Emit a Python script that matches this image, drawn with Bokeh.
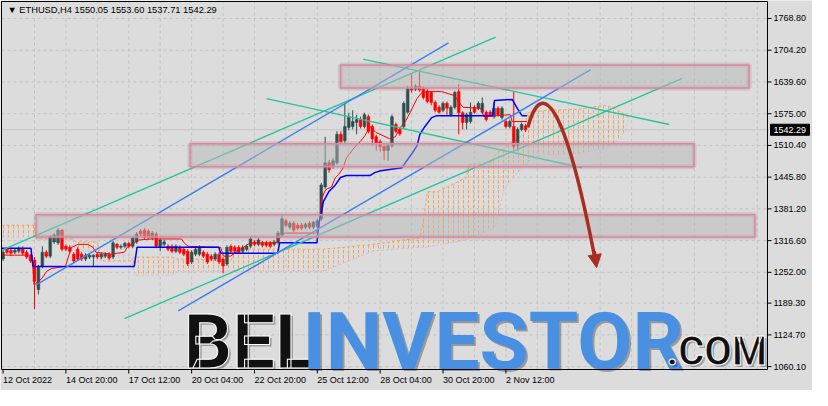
import numpy as np
from bokeh.plotting import figure
from bokeh.models import Range1d, Arrow, NormalHead, ColumnDataSource
from bokeh.embed import file_html
from bokeh.resources import INLINE
from bokeh.core.properties import value

# ---------------- data ----------------
header_text = "\u25BC ETHUSD,H4  1550.05 1553.60 1537.71 1542.29"
last_price = 1542.29

opens = [1279,1299,1297,1293,1295,1301,1293,1285,1277,1217,
         1264,1293,1285,1314,1312,1338,1305,1303,1289,1299,
         1289,1279,1283,1283,1289,1283,1285,1289,1283,1309,
         1303,1305,1311,1305,1314,1336,1338,1336,1322,1330,
         1303,1309,1305,1305,1295,1303,1299,1295,1273,1289,
         1289,1293,1289,1285,1279,1289,1279,1269,1305,1303,
         1303,1295,1299,1305,1314,1309,1312,1312,1312,1309,
         1312,1328,1357,1344,1352,1348,1348,1344,1352,1344,
         1346,1361,1426,1475,1469,1475,1533,1520,1547,1549,
         1557,1563,1549,1569,1549,1528,1518,1508,1500,1510,
         1553,1543,1549,1578,1627,1625,1631,1627,1621,1618,
         1598,1588,1582,1596,1573,1588,1620,1577,1557,1559,
         1588,1586,1578,1578,1578,1569,1586,1567,1559,1549,
         1549,1510,1543,1550.05]
highs = [1299,1303,1303,1301,1305,1305,1297,1289,1283,1267,
         1305,1297,1328,1332,1342,1340,1309,1307,1293,1303,
         1293,1291,1291,1289,1293,1293,1293,1293,1316,1312,
         1309,1314,1314,1326,1334,1340,1342,1340,1336,1334,
         1322,1318,1309,1309,1309,1307,1303,1299,1297,1303,
         1307,1297,1293,1289,1293,1293,1283,1307,1309,1307,
         1307,1307,1309,1324,1318,1322,1316,1316,1316,1318,
         1336,1371,1361,1356,1356,1352,1352,1353,1356,1357,
         1361,1434,1528,1481,1485,1539,1539,1596,1577,1582,
         1573,1569,1577,1573,1553,1532,1522,1512,1514,1573,
         1557,1547,1600,1631,1655,1635,1664,1631,1627,1621,
         1602,1592,1600,1600,1592,1621,1635,1580,1577,1598,
         1592,1600,1608,1582,1582,1598,1590,1590,1563,1563,
         1621,1547,1557,1553.60]
lows = [1275,1289,1285,1289,1291,1287,1279,1271,1177,1207,
        1260,1281,1281,1310,1308,1295,1295,1291,1271,1275,
        1275,1275,1279,1264,1279,1279,1281,1277,1279,1299,
        1299,1301,1301,1301,1310,1326,1320,1318,1318,1301,
        1295,1305,1295,1291,1291,1289,1285,1265,1269,1285,
        1285,1281,1269,1275,1275,1269,1250,1265,1291,1291,
        1289,1291,1295,1301,1305,1305,1303,1303,1301,1305,
        1309,1324,1344,1340,1334,1338,1338,1340,1340,1340,
        1342,1357,1422,1455,1463,1471,1514,1516,1541,1543,
        1533,1545,1545,1535,1510,1500,1498,1481,1479,1506,
        1535,1530,1545,1575,1618,1621,1620,1604,1596,1592,
        1578,1575,1578,1573,1569,1584,1533,1543,1543,1555,
        1575,1582,1575,1559,1569,1565,1569,1563,1545,1545,
        1502,1500,1539,1537.71]
closes = [1293,1293,1291,1297,1301,1291,1283,1275,1234,1264,
          1293,1285,1324,1328,1338,1299,1299,1295,1275,1279,
          1279,1287,1287,1287,1283,1289,1289,1281,1312,1303,
          1305,1311,1305,1322,1330,1330,1324,1324,1332,1305,
          1318,1314,1299,1295,1305,1293,1289,1269,1293,1299,
          1303,1285,1273,1279,1289,1273,1265,1303,1295,1295,
          1293,1303,1305,1320,1309,1318,1307,1307,1305,1314,
          1332,1361,1348,1352,1338,1342,1342,1350,1344,1354,
          1357,1430,1475,1461,1479,1533,1518,1549,1569,1559,
          1563,1549,1573,1539,1524,1514,1508,1500,1510,1569,
          1539,1534,1596,1627,1623,1631,1623,1608,1600,1598,
          1582,1578,1596,1586,1588,1618,1577,1557,1573,1578,
          1578,1596,1596,1563,1573,1586,1573,1586,1549,1559,
          1508,1543,1553,1542.29]

date_tick_bars = [0, 16, 32, 48, 64, 80, 96, 112, 128]
date_labels = ["12 Oct 2022", "14 Oct 20:00", "17 Oct 12:00", "20 Oct 04:00",
               "22 Oct 20:00", "25 Oct 12:00", "28 Oct 04:00", "30 Oct 20:00",
               "2 Nov 12:00"]
grid_bars = list(range(8, 195, 8))
price_ticks = [1060.10, 1124.70, 1189.30, 1252.00, 1316.60, 1381.20,
               1445.80, 1510.40, 1575.00, 1639.60, 1704.20, 1768.80]
price_labels = ["1060.10", "1124.70", "1189.30", "1252.00", "1316.60", "1381.20",
                "1445.80", "1510.40", "1575.00", "1639.60", "1704.20", "1768.80"]

# Ichimoku: Tenkan-sen (red) and Kijun-sen (blue)
tenkan_bar = [-0.4,7.4,7.9,9.9,11.1,12.4,15.9,16.6,17.4,19.1,21.6,22.9,23.6,27.4,30.9,
              31.6,33.4,34.6,37.9,45.4,46.1,47.1,55.4,56.1,57.9,60.4,62.9,69.6,70.4,
              71.6,79.6,80.4,81.1,82.1,83.6,84.6,85.4,86.6,87.4,89.6,90.9,92.1,93.4,
              94.9,98.4,99.9,101.1,102.4,103.6,105.4,106.6,108.4,111.6,114.9,116.1,
              117.1,121.6,122.4,129.1,129.6,133.4]
tenkan_val = [1287,1287,1226,1240,1254,1260,1264,1283,1303,1309,1309,1303,1293,1289,1293,
              1303,1312,1318,1320,1320,1312,1305,1303,1285,1285,1299,1312,1312,1322,
              1332,1332,1342,1402,1420,1426,1445,1451,1465,1485,1508,1518,1530,1549,
              1537,1524,1528,1547,1559,1577,1606,1618,1620,1620,1612,1598,
              1588,1586,1569,1573,1559,1559]
kijun_bar = [-0.4,7.1,7.6,33.4,34.1,54.9,55.4,69.9,70.4,79.9,80.4,81.6,82.9,84.6,85.9,
             87.4,93.4,94.6,96.1,101.6,102.4,104.1,105.4,106.1,107.4,109.1,110.4,
             124.6,125.1,129.6,130.9,132.1,133.4]
kijun_val = [1301,1301,1264,1264,1303,1303,1291,1291,1312,1312,1352,1397,1416,1430,1445,
             1449,1449,1455,1459,1465,1475,1494,1510,1533,1549,1567,1571,
             1571,1602,1604,1586,1571,1571]

# Ichimoku cloud: Senkou span A (sandy brown) and span B (thistle)
cloud_bar = [-0.4,8,8.5,17.5,18.5,24,25,32.5,33.5,43,44,49,58,59,81.5,94,106,107,108,
             110.5,118,118.5,124,125.5,127.5,129,132.5,133.5,136,139,146.5,150,153,154,
             155.5,158.5,159.1]
span_a = [1348,1348,1320,1320,1314,1314,1275,1275,1283,1283,1279,1279,1275,1299,1299,
          1309,1322,1357,1416,1416,1445,1471,1475,1494,1504,1514,1532,1577,1580,1582,
          1584,1588,1592,1590,1586,1573,1567]
span_b = [1324,1324,1326,1326,1295,1295,1287,1287,1246,1246,1254,1254,1254,1254,1254,
          1295,1303,1303,1303,1307,1318,1322,1338,1348,1422,1436,1469,1475,1489,1492,
          1494,1500,1504,1508,1514,1539,1563]

# support / resistance zones
zone_left = [85.9, 47.6, 8.4]
zone_right = [189.9, 175.9, 191.4]
zone_top = [1674.3, 1513.9, 1369.2]
zone_bottom = [1627.3, 1467.0, 1324.2]

# trend lines (start bar, start price, end bar, end price)
green_x0 = [-0.4, 30.9, 91.6, 67.1]
green_y0 = [1296.8, 1157.9, 1686.0, 1605.8]
green_x1 = [125.4, 172.9, 169.6, 147.4]
green_y1 = [1731.0, 1646.9, 1553.0, 1465.0]
blue_x0 = [8.4, 44.6]
blue_y0 = [1226.4, 1173.6]
blue_x1 = [113.4, 149.6]
blue_y1 = [1719.3, 1664.5]

# forecast arrow (bezier path and head)
arrow_path_x = [133.6, 137.1, 142.9, 150.6]
arrow_path_y = [1547.2, 1650.8, 1601.9, 1283.1]
arrow_head_x = [150.5, 151.1]
arrow_head_y = [1294.8, 1261.6]

# watermark (left edge bar, vertical centre price)
wm_texts = ["BEL", "INVESTOR", ".COM"]
wm_x = [46.0, 76.2, 168.9]
wm_y = [1109.2, 1111.2, 1090.8]
wm_colors = ["#111111", "#4a90e2", "#111111"]
wm_sizes = ["76px", "80px", "40px"]
wm_outline = ["white", None, "white"]

# ---------------- geometry ----------------
x_lo, x_hi = -0.4, 194.6          # visible bars in the chart area
y_lo, y_hi = 1054.2, 1803.4       # visible prices in the chart area
W, H = 812, 390
CHART_W, CHART_H = 766, 368       # chart area in pixels (rest = axis zones)
bar_px = CHART_W / (x_hi - x_lo)
val_px = (y_hi - y_lo) / CHART_H
xr0 = x_lo - 1 / bar_px
yr1 = y_hi + 1 * val_px

BG = "#dcdcdc"
FONT = "Liberation Sans"
WM_FONT = "Roboto"

p = figure(width=W, height=H, output_backend="svg", toolbar_location=None,
           x_range=Range1d(xr0, xr0 + W / bar_px), y_range=Range1d(yr1 - H * val_px, yr1),
           x_axis_location=None, y_axis_location=None,
           min_border_left=0, min_border_top=0, min_border_right=0, min_border_bottom=0)
p.background_fill_color = BG
p.border_fill_color = BG
p.outline_line_color = None
p.grid.visible = False

# grid
p.segment(x0=grid_bars, y0=[y_lo] * len(grid_bars), x1=grid_bars, y1=[y_hi] * len(grid_bars),
          line_color="#c3c3c3", line_dash="3 3", line_width=1)
p.segment(x0=[x_lo] * len(price_ticks), y0=price_ticks, x1=[x_hi] * len(price_ticks), y1=price_ticks,
          line_color="#c3c3c3", line_dash="3 3", line_width=1)

# bid line
p.segment(x0=[x_lo], y0=[last_price], x1=[x_hi + 3 / bar_px], y1=[last_price],
          line_color="#c4c4c4", line_width=1)

# cloud
a = np.array(span_a, dtype=float)
b = np.array(span_b, dtype=float)
top = np.maximum(a, b)
p.varea(x=cloud_bar, y1=b, y2=top, fill_color=None, fill_alpha=0,
        hatch_pattern=":", hatch_color="#f4a460", hatch_scale=5, hatch_weight=1)
p.varea(x=cloud_bar, y1=a, y2=top, fill_color=None, fill_alpha=0,
        hatch_pattern=":", hatch_color="#d8bfd8", hatch_scale=5, hatch_weight=1)
p.line(cloud_bar, span_a, line_color="#f4a460", line_dash="3 2", line_width=1)
p.line(cloud_bar, span_b, line_color="#d8bfd8", line_dash="3 2", line_width=1)

# candles
idx = list(range(len(opens)))
up = [c >= o for o, c in zip(opens, closes)]
src = ColumnDataSource(dict(
    x=idx, o=opens, h=highs, l=lows, c=closes,
    top=[max(o, c) for o, c in zip(opens, closes)],
    bot=[min(o, c) for o, c in zip(opens, closes)],
    col=["#2f4f4f" if u else "#ff0000" for u in up]))
p.segment(x0="x", y0="l", x1="x", y1="h", line_color="col", line_width=1, source=src)
p.vbar(x="x", width=0.7, top="top", bottom="bot", fill_color="col", line_color="col",
       line_width=0.5, source=src)

# ichimoku lines
p.line(tenkan_bar, tenkan_val, line_color="#ff0000", line_width=1)
p.line(kijun_bar, kijun_val, line_color="#0000ff", line_width=1.5)

# trend lines
p.segment(x0=green_x0, y0=green_y0, x1=green_x1, y1=green_y1,
          line_color="#25c3a0", line_width=1.4)
p.segment(x0=blue_x0, y0=blue_y0, x1=blue_x1, y1=blue_y1,
          line_color="#3b7ff2", line_width=1.4)

# zones (soft shadow + translucent box)
p.quad(left=zone_left, right=zone_right, top=zone_top, bottom=zone_bottom,
       fill_color=None, line_color="#8a8a8a", line_alpha=0.25, line_width=5)
p.quad(left=zone_left, right=zone_right, top=zone_top, bottom=zone_bottom,
       fill_color="#b8b8b8", fill_alpha=0.5, line_color="#e8809f", line_width=1.5)

# watermark (shadow + text)
for t, x, y, c, s, o in zip(wm_texts, wm_x, wm_y, wm_colors, wm_sizes, wm_outline):
    p.text(x=[x], y=[y], text=[t], text_font=value(WM_FONT),
           text_font_style="bold", text_font_size=s, text_color="black",
           text_alpha=0.3, x_offset=2, y_offset=2, text_baseline="middle")
    kw = dict(text_font=value(WM_FONT), text_font_style="bold", text_font_size=s,
              text_color=c, text_baseline="middle")
    if o is not None:
        try:
            p.text(x=[x], y=[y], text=[t], text_outline_color=o, **kw)
        except Exception:
            p.text(x=[x], y=[y], text=[t], **kw)
    else:
        p.text(x=[x], y=[y], text=[t], **kw)

# arrow
ARROW_C = "#a82e20"
p.bezier(x0=[arrow_path_x[0]], y0=[arrow_path_y[0]], x1=[arrow_path_x[3]], y1=[arrow_path_y[3]],
         cx0=[arrow_path_x[1]], cy0=[arrow_path_y[1]], cx1=[arrow_path_x[2]], cy1=[arrow_path_y[2]],
         line_color=ARROW_C, line_width=3.5)
p.add_layout(Arrow(end=NormalHead(size=13, fill_color=ARROW_C, line_color=ARROW_C),
                   x_start=arrow_head_x[0], y_start=arrow_head_y[0],
                   x_end=arrow_head_x[1], y_end=arrow_head_y[1],
                   line_color=ARROW_C, line_width=3.5))

# chart frame
p.quad(left=[x_lo], right=[x_hi], top=[y_hi], bottom=[y_lo], fill_color=None,
       line_color="black", line_width=1)

# right price axis
n = len(price_ticks)
p.segment(x0=[x_hi] * n, y0=price_ticks, x1=[x_hi + 4 / bar_px] * n, y1=price_ticks,
          line_color="black", line_width=1)
p.text(x=[x_hi + 6 / bar_px] * n, y=price_ticks, text=price_labels, text_font=value(FONT),
       text_font_size="9px", text_color="black", text_baseline="middle", text_align="left")

# bottom date axis
m = len(date_tick_bars)
p.segment(x0=date_tick_bars, y0=[y_lo] * m, x1=date_tick_bars, y1=[y_lo - 4 * val_px] * m,
          line_color="black", line_width=1)
p.text(x=date_tick_bars, y=[y_lo - 5 * val_px] * m, text=date_labels, text_font=value(FONT),
       text_font_size="9px", text_color="black", text_baseline="top", text_align="left")

# current price tag
p.quad(left=[x_hi + 3 / bar_px], right=[x_hi + 42 / bar_px],
       top=[last_price + 5.5 * val_px], bottom=[last_price - 5.5 * val_px],
       fill_color="black", line_color="black")
p.text(x=[x_hi + 6 / bar_px], y=[last_price], text=[f"{last_price:.2f}"], text_font=value(FONT),
       text_font_size="9px", text_color="white", text_baseline="middle", text_align="left")

# header
p.text(x=[x_lo + 6 / bar_px], y=[y_hi - 8 * val_px], text=[header_text], text_font=value(FONT),
       text_font_size="9.3px", text_color="black", text_baseline="middle", text_align="left")

open("out.html", "w").write(file_html(p, INLINE))
